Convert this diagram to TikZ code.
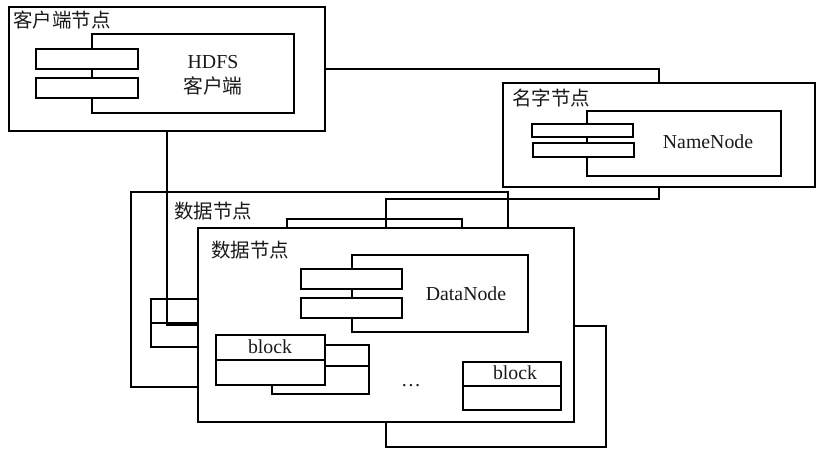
\documentclass[tikz,border=0pt]{standalone}
\usepackage{fontspec}
\setmainfont{Liberation Serif}
\newfontfamily\cjk{Noto Sans CJK SC}
\usetikzlibrary{calc}
\tikzset{
  box/.style={draw, fill=white, line width=1.7pt, inner sep=0pt, outer sep=0pt, anchor=north west},
  conn/.style={draw, line width=1.7pt},
  lbl/.style={inner sep=0pt, text=black!90, font=\fontsize{19.8}{25}\selectfont},
  ttl/.style={inner sep=0pt, anchor=west, text=black!90, font=\cjk\fontsize{19.5}{24}\selectfont}}
\begin{document}
\begin{tikzpicture}[x=1pt,y=-1pt]
\useasboundingbox[fill=white] (0,0) rectangle (817,452);

% ---- client node ----
\node[box, minimum width=316pt, minimum height=124pt] (client) at (9,7) {};
\node[ttl] (clientttl) at (13,20) {客户端节点};
\node[box, minimum width=202pt, minimum height=79pt] (hcomp) at (92,34) {};
\node[box, minimum width=102pt, minimum height=20pt] (hr1) at (36,49) {};
\node[box, minimum width=102pt, minimum height=20pt] (hr2) at (36,78) {};
\node[lbl, align=center] (htxt) at (213,75.5) {HDFS\\{\cjk 客户端}};

% ---- name node ----
\node[box, minimum width=312pt, minimum height=104pt] (nn) at (503,83) {};
\node[ttl] (nnttl) at (512,98) {名字节点};
\node[box, minimum width=194pt, minimum height=65pt] (ncomp) at (587,111) {};
\node[box, minimum width=101pt, minimum height=13pt] (nr1) at (532,124) {};
\node[box, minimum width=101pt, minimum height=14pt] (nr2) at (533,143) {};
\node[lbl] (ntxt) at (708,142) {NameNode};

% ---- back data node ----
\node[box, minimum width=377pt, minimum height=195pt] (dnb) at (131,192) {};
\node[ttl] (dnbttl) at (174,211) {数据节点};
\node[box, minimum width=175pt, minimum height=40pt] (dnbcomp) at (287,219) {};
\node[box, minimum width=100pt, minimum height=48pt] (dnbr) at (151,299) {};
\path[conn] (dnbr.west) -- (dnbr.east);
\node[box, minimum width=220pt, minimum height=121pt] (dnc) at (386,326) {};

% ---- front data node ----
\node[box, minimum width=376pt, minimum height=194pt] (dn) at (198,228) {};
\node[ttl] (dnttl) at (211,250) {数据节点};
\node[box, minimum width=176pt, minimum height=77pt] (dcomp) at (352,255) {};
\node[box, minimum width=101pt, minimum height=20pt] (dr1) at (301,269) {};
\node[box, minimum width=101pt, minimum height=20pt] (dr2) at (301,298) {};
\node[lbl] (dtxt) at (466,294) {DataNode};

% blocks
\node[box, minimum width=97pt, minimum height=49pt] (bb) at (272,345) {};
\path[conn] ($(bb.north west)+(0,21)$) -- ($(bb.north east)+(0,21)$);
\node[box, minimum width=109pt, minimum height=50pt] (b1) at (216,335) {};
\path[conn] (b1.west) -- (b1.east);
\node[lbl] (b1txt) at (270,347) {block};
\node[lbl] (dots) at (411,386) {\dots};
\node[box, minimum width=98pt, minimum height=48pt] (b2) at (463,362) {};
\path[conn] (b2.west) -- (b2.east);
\node[lbl] (b2txt) at (515,373) {block};

% ---- connectors ----
\path[conn] (client.east) -| (nn.north);
\path[conn] (client.south) |- (dn.west);
\path[conn] (nn.south) -- ++(0,12) -| (dn.north);
\end{tikzpicture}
\end{document}
